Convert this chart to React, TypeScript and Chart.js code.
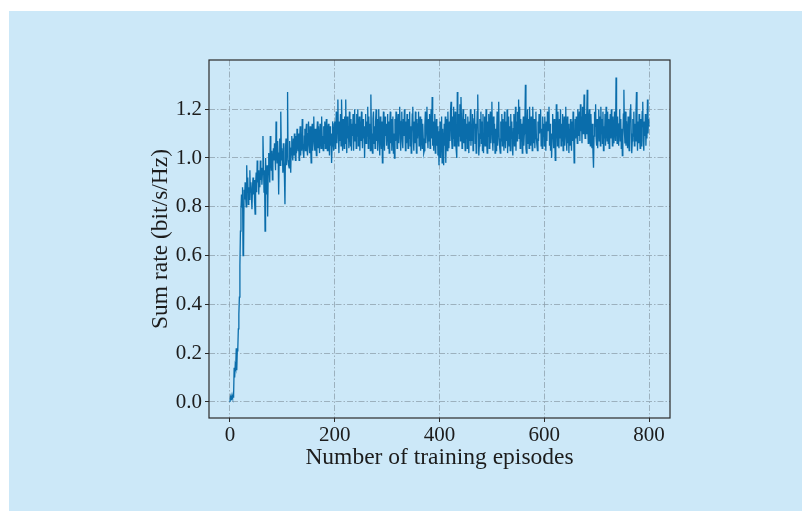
import React, { useEffect, useRef } from "react";
import { Chart, registerables } from "chart.js";

Chart.register(...registerables);

// Sum rate per training episode (episodes 0..800)
const sumRateWarmup = [
  0.00,0.02,0.01,0.02,0.03,0.02,0.02,0.03,0.14,0.10,0.15,0.14,0.22,0.13,0.21,0.22,0.30,0.36,0.43,0.56,
  0.70,0.79,0.85,0.80,0.88,0.60,0.62,0.87,0.83,0.90,0.84,0.80,0.97,0.86,0.92,0.81,0.88,0.83,0.95,0.86,
  0.90,0.84,0.79,0.88,0.92,0.85,0.91,0.82,0.77,0.89,0.94,0.86,0.99,0.90,0.95,0.85,0.93,0.88,0.99,0.91,
  0.96,0.89,0.94,1.09,0.98,0.86,0.95,0.70,1.00,0.92,0.85,0.97,0.76,0.94,1.02,0.96,0.90,1.09,1.01,0.95,
  1.03,0.91,0.98,1.04,0.99,1.06,1.01,0.95,1.15,1.03,0.98,1.07,1.00,0.85,1.02,1.08,0.97,1.19,1.04,0.99,
];

const sumRateEarly = [
  1.03,0.94,1.06,0.99,0.92,0.81,1.04,1.08,0.97,1.05,1.27,0.99,0.97,0.96,1.07,1.01,0.94,1.04,1.09,1.02,
  0.99,1.08,1.01,1.10,1.04,0.99,1.09,1.02,1.12,1.05,1.03,1.10,0.99,1.07,1.13,1.01,1.09,1.03,1.16,1.06,
  1.02,1.00,1.09,1.12,1.03,1.11,1.14,1.04,1.01,1.10,1.15,1.05,1.02,1.13,1.05,0.98,1.11,1.14,1.03,1.12,
  1.17,1.06,1.03,1.12,1.05,1.01,1.11,1.15,1.04,1.13,1.07,1.02,1.14,1.08,1.04,1.17,1.09,1.05,1.03,1.13,
  1.06,1.15,1.04,1.11,1.16,1.05,1.03,1.12,1.14,1.06,1.01,1.13,1.05,1.10,0.98,1.05,1.15,1.08,1.03,1.14,
  1.15,1.04,1.12,1.19,1.06,1.17,1.24,1.08,1.02,1.15,1.07,1.18,1.05,1.24,1.13,1.03,1.16,1.09,1.04,1.17,
  1.06,1.24,1.10,1.02,1.17,1.08,1.13,1.04,1.19,1.11,1.05,1.16,1.03,1.14,1.09,1.18,1.03,1.12,1.20,1.07,
  1.14,1.04,1.18,1.09,1.20,1.05,1.11,1.17,1.03,1.15,1.07,1.19,1.10,1.04,1.16,1.08,1.13,1.00,1.12,1.18,
  1.06,1.15,1.09,1.21,1.04,1.17,1.08,1.14,1.03,1.26,1.10,1.05,1.02,1.16,1.19,1.06,1.13,1.04,1.15,1.20,
  1.07,1.16,1.03,1.13,1.20,1.06,1.01,1.17,1.10,1.04,1.15,0.98,1.11,1.19,1.07,1.03,1.17,1.09,1.14,1.05,
];

const sumRateMid = [
  1.12,1.18,1.04,1.15,1.02,1.13,1.19,1.06,1.16,1.03,1.11,1.17,1.02,1.10,1.00,1.16,1.07,1.19,1.12,1.04,
  1.14,1.18,1.06,1.17,1.21,1.08,1.03,1.15,1.19,1.07,1.04,1.16,1.09,1.20,1.12,1.03,1.15,1.06,1.18,1.10,
  1.04,1.16,1.08,1.19,1.05,1.13,1.02,1.10,1.18,1.21,1.07,1.03,1.15,1.06,1.19,1.11,1.02,1.16,1.08,1.14,
  1.19,1.05,1.12,1.17,1.03,1.10,1.16,1.04,1.14,1.08,1.02,1.03,1.13,1.19,1.06,1.15,1.21,1.09,1.04,1.16,
  1.07,1.18,1.04,1.13,1.20,1.08,1.25,1.05,1.15,1.03,1.12,1.18,1.02,1.10,1.16,1.05,1.13,1.01,1.11,0.97,
  1.06,1.15,1.00,1.10,1.17,0.98,1.12,1.04,0.97,1.14,1.05,1.17,0.98,1.10,1.16,1.03,1.19,1.08,1.04,1.15,
  1.07,1.19,1.23,1.09,1.04,1.17,1.08,1.21,1.05,1.14,1.19,1.06,1.03,1.00,1.27,1.12,1.05,1.18,1.09,1.22,
  1.07,1.25,1.15,1.04,1.13,1.20,1.06,1.16,1.10,1.03,1.18,1.08,1.14,1.04,1.17,1.10,1.02,1.15,1.07,1.20,
  1.05,1.14,1.07,1.18,1.03,1.12,1.16,1.20,1.06,1.14,1.02,1.09,1.19,1.26,1.10,1.01,1.05,1.16,1.08,1.19,
  1.06,1.15,1.03,1.18,1.02,1.10,1.17,1.05,1.13,1.20,1.07,1.02,1.15,1.09,1.18,1.04,1.12,1.19,1.06,1.16,
  1.23,1.08,1.03,1.17,1.06,1.14,1.02,1.12,1.03,1.09,1.19,1.05,1.14,1.23,1.08,1.04,1.02,1.15,1.07,1.18,
  1.05,1.16,1.09,1.03,1.19,1.11,1.04,1.15,1.07,1.20,1.02,1.10,1.17,1.05,1.13,1.03,1.18,1.08,1.15,1.04,
  1.01,1.12,1.18,1.05,1.10,1.21,1.03,1.15,1.07,1.19,1.10,1.24,1.08,1.21,1.04,1.16,1.07,1.14,1.02,1.12,
];

const sumRateLate = [
  1.17,1.05,1.10,1.15,1.30,1.04,1.02,1.12,1.20,1.06,1.16,1.04,1.21,1.09,1.05,1.17,1.11,1.03,1.21,1.13,
  1.06,1.16,1.04,1.12,1.19,1.08,1.05,1.03,1.15,1.07,1.18,1.10,1.16,1.20,1.05,1.12,1.04,1.17,1.09,1.14,
  1.05,1.17,1.09,1.03,1.15,1.07,1.19,1.11,1.16,1.21,1.05,1.14,1.03,1.10,1.00,1.08,1.18,1.12,1.04,1.16,
  1.09,0.99,1.06,1.22,1.14,1.05,1.19,1.10,1.04,1.16,1.08,1.20,1.05,1.14,1.07,1.18,1.03,1.12,1.17,1.05,
  1.13,1.21,1.08,1.03,1.17,1.06,1.14,1.02,1.12,1.05,1.16,1.09,1.03,1.15,1.07,1.19,1.11,0.98,1.06,1.16,
  1.08,1.17,1.12,1.06,1.20,1.14,1.09,1.19,1.07,1.22,1.11,1.17,1.06,1.21,1.10,1.15,1.26,1.12,1.08,1.18,
  1.10,1.17,1.28,1.13,1.06,1.16,1.20,1.08,1.05,1.18,1.10,1.04,1.14,1.02,0.96,1.09,1.19,1.13,1.22,1.08,
  1.05,1.16,1.04,1.14,1.20,1.07,1.17,1.05,1.21,1.10,1.16,1.06,1.19,1.03,1.13,1.08,1.18,1.05,1.21,1.12,
  1.07,1.19,1.06,1.16,1.04,1.12,1.18,1.08,1.20,1.13,1.05,1.17,1.10,1.06,1.19,1.12,1.07,1.33,1.14,1.06,
  1.17,1.10,1.05,1.14,1.20,1.07,1.16,1.04,1.12,1.01,1.08,1.18,1.28,1.11,1.06,1.19,1.05,1.15,1.10,1.04,
  1.17,1.08,1.03,1.14,1.20,1.22,1.10,1.02,1.07,1.16,1.09,1.19,1.05,1.14,1.07,1.18,1.27,1.10,1.03,1.15,
  1.06,1.18,1.09,1.04,1.16,1.05,1.12,1.19,1.23,1.07,1.03,1.15,1.09,1.18,1.05,1.13,1.08,1.24,1.10,1.16,1.13,
];

const xTickValues = [0, 200, 400, 600, 800];
const yTickValues = [0.0, 0.2, 0.4, 0.6, 0.8, 1.0, 1.2];
const xTitle = "Number of training episodes";
const yTitle = "Sum rate (bit/s/Hz)";

const FONT = "'Liberation Serif', 'DejaVu Serif', serif";
const TEXT = "#1c1c1c";
const GRID = "#8fa2ae";
const LINE = "#0a6dab";
const BG = "#cce8f8";

export default function App() {
  const ref = useRef<HTMLCanvasElement>(null);

  useEffect(() => {
    const canvas = ref.current;
    if (!canvas) return;
    const sumRate = [...sumRateWarmup, ...sumRateEarly, ...sumRateMid, ...sumRateLate];
    const points = sumRate.map((v, i) => ({ x: i, y: v }));

    const framePlugin = {
      id: "frame",
      afterDraw(chart: any) {
        const { ctx, chartArea } = chart;
        ctx.save();
        ctx.strokeStyle = "#2a2a2a";
        ctx.lineWidth = 1.2;
        ctx.strokeRect(chartArea.left, chartArea.top, chartArea.right - chartArea.left, chartArea.bottom - chartArea.top);
        ctx.restore();
      },
    };

    const chart = new Chart(canvas, {
      type: "line",
      data: {
        datasets: [
          {
            data: points,
            borderColor: LINE,
            borderWidth: 1.3,
            pointRadius: 0,
            tension: 0,
            fill: false,
          },
        ],
      },
      options: {
        responsive: false,
        animation: false,
        devicePixelRatio: 1,
        layout: { padding: { left: 147, top: 60, right: 132, bottom: 39 } },
        plugins: {
          legend: { display: false },
          tooltip: { enabled: false },
        },
        scales: {
          x: {
            type: "linear",
            min: -40,
            max: 840,
            afterBuildTicks: (s: any) => {
              s.ticks = xTickValues.map((v) => ({ value: v }));
            },
            afterFit: (s: any) => {
              s.height = 54;
            },
            ticks: {
              includeBounds: false,
              padding: 1,
              color: TEXT,
              font: { family: FONT, size: 21 },
              maxRotation: 0,
              callback: (v: any) => String(v),
            },
            grid: {
              color: GRID,
              lineWidth: 0.8,
              tickColor: "#2a2a2a",
              tickLength: 4,
              tickWidth: 1,
              tickBorderDash: [],
            },
            border: { display: false, dash: [6, 2, 1.5, 2] },
            title: {
              display: true,
              text: xTitle,
              color: TEXT,
              font: { family: FONT, size: 23.5 },
              padding: 0,
            },
          },
          y: {
            type: "linear",
            min: -0.0656,
            max: 1.4016,
            afterBuildTicks: (s: any) => {
              s.ticks = yTickValues.map((v) => ({ value: v }));
            },
            afterFit: (s: any) => {
              s.width = 62;
            },
            ticks: {
              includeBounds: false,
              padding: 3,
              color: TEXT,
              font: { family: FONT, size: 21 },
              callback: (v: any) => Number(v).toFixed(1),
            },
            grid: {
              color: GRID,
              lineWidth: 0.8,
              tickColor: "#2a2a2a",
              tickLength: 4,
              tickWidth: 1,
              tickBorderDash: [],
            },
            border: { display: false, dash: [6, 2, 1.5, 2] },
            title: {
              display: true,
              text: yTitle,
              color: TEXT,
              font: { family: FONT, size: 23.5 },
              padding: 0,
            },
          },
        },
      },
      plugins: [framePlugin],
    } as any);

    return () => chart.destroy();
  }, []);

  return (
    <div style={{ position: "fixed", left: 0, top: 0, width: 802, height: 511, background: "#ffffff", overflow: "hidden" }}>
      <div style={{ position: "absolute", left: 9, top: 11, right: 0, bottom: 0, background: BG }} />
      <canvas ref={ref} width={802} height={511} style={{ position: "absolute", left: 0, top: 0, width: 802, height: 511 }} />
    </div>
  );
}
